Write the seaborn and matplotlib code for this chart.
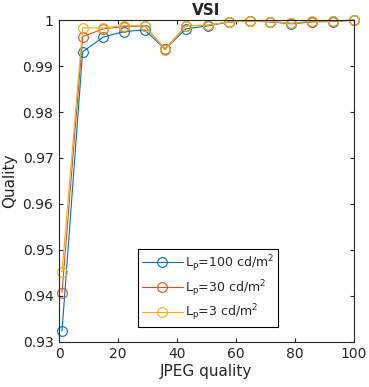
import pandas as pd
import matplotlib
matplotlib.use("Agg")
import matplotlib.pyplot as plt
import seaborn as sns

# JPEG quality levels (x axis)
jpeg_q = [1, 8, 15, 22, 29, 36, 43, 50.5, 57.6, 64.6, 71.7, 78.8, 85.9, 92.9, 100]

# VSI quality per peak luminance
vsi_100 = [0.9323, 0.9931, 0.9963, 0.9975, 0.9979, 0.99365, 0.9981, 0.99875,
           0.9996, 0.9998, 0.9996, 0.9992, 0.9996, 0.9997, 1.0]
vsi_30 = [0.9407, 0.99642, 0.9981, 0.9986, 0.99875, 0.9937, 0.99875, 0.9989,
          0.9996, 0.9998, 0.9997, 0.9993, 0.9997, 0.9998, 1.0]
vsi_3 = [0.9452, 0.99832, 0.9983, 0.9988, 0.9988, 0.9935, 0.9988, 0.9989,
         0.9996, 0.9998, 0.9997, 0.9993, 0.9998, 0.9998, 1.0]

labels = [r"L$_\mathregular{p}$=100 cd/m$^\mathregular{2}$",
          r"L$_\mathregular{p}$=30 cd/m$^\mathregular{2}$",
          r"L$_\mathregular{p}$=3 cd/m$^\mathregular{2}$"]
colors = ["#0072BD", "#D95319", "#EDB120"]

df = pd.concat([
    pd.DataFrame({"JPEG quality": jpeg_q, "Quality": vals, "series": lab})
    for vals, lab in zip([vsi_100, vsi_30, vsi_3], labels)
])

sns.set_style("ticks")
plt.rcParams["font.family"] = ["DejaVu Sans"]

fig = plt.figure(figsize=(3.69, 3.87), dpi=100)
ax = fig.add_axes([0.160, 0.117, 0.799, 0.831])

sns.lineplot(data=df, x="JPEG quality", y="Quality", hue="series",
             palette=colors, marker="o", markersize=7, linewidth=0.8,
             legend=False, ax=ax)

# open circles like the original, not clipped at the box
for line, c in zip(ax.lines, colors):
    line.set_markerfacecolor("none")
    line.set_markeredgecolor(c)
    line.set_markeredgewidth(0.8)
    line.set_clip_on(False)

ax.set_xlim(0, 100)
ax.set_ylim(0.93, 1.0)
ax.set_xticks([0, 20, 40, 60, 80, 100])
ax.set_yticks([0.93, 0.94, 0.95, 0.96, 0.97, 0.98, 0.99, 1.0])
ax.set_yticklabels(["0.93", "0.94", "0.95", "0.96", "0.97", "0.98", "0.99", "1"])

for s in ax.spines.values():
    s.set_visible(True)
    s.set_color("#262626")
    s.set_linewidth(0.8)
ax.tick_params(direction="in", length=3, width=0.8, colors="#262626",
               labelsize=10, top=True, right=True, pad=4)

ax.set_xlabel("JPEG quality", fontsize=11, color="#262626", labelpad=2)
ax.set_ylabel("Quality", fontsize=11, color="#262626", labelpad=4)
ax.set_title("VSI", fontsize=11, fontweight="bold", pad=4)

leg = ax.legend(ax.lines[:3], labels, loc="lower left",
                bbox_to_anchor=(0.267, 0.045), fontsize=9,
                handlelength=3.3, fancybox=False, framealpha=1,
                edgecolor="black", borderpad=0.3, labelspacing=0.35,
                handletextpad=0.2, borderaxespad=0)
leg.get_frame().set_linewidth(0.8)

fig.savefig("out.png", dpi=100)
